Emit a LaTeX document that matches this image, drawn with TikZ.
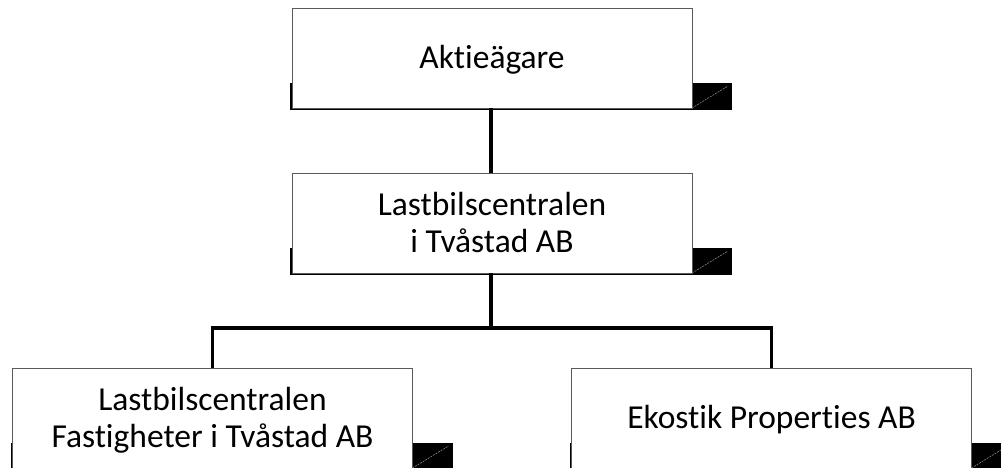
\documentclass[tikz,border=0pt]{standalone}
\usepackage{fontspec}
\setmainfont{Carlito}[Ligatures={NoCommon,NoRare}]
\begin{document}
\begin{tikzpicture}[x=1pt,y=-1pt,
  orgbox/.style={draw=black!65, line width=0.9pt, fill=white, minimum width=400pt,
    minimum height=100pt, inner sep=0pt, outer sep=0pt, align=center,
    font=\fontsize{33.5}{36.7}\selectfont},
  oneline/.style={text height=21.6pt, text depth=0pt},
  twoline/.style={text height=58.3pt, text depth=0pt},
  shadowfill/.style={fill=black},
  shadowdiag/.style={draw=black!40, line width=0.5pt, dash pattern=on 2pt off 1pt},
  conn/.style={draw=black, line width=3.2pt}]
\useasboundingbox (0,0) rectangle (1001,468);
\clip (0,0) rectangle (1001,468);
% positions
\coordinate (pa) at (492,58);
\coordinate (pb) at (492,223);
\coordinate (pc) at (212.5,418);
\coordinate (pd) at (771.5,418);
% shadows
\foreach \p in {pa,pb,pc,pd}{
  \fill[shadowfill] ([xshift=-202pt,yshift=-52pt]\p) rectangle ([xshift=240pt,yshift=-25pt]\p);
  \draw[shadowdiag] ([xshift=200pt,yshift=-50pt]\p) -- ([xshift=236pt,yshift=-28pt]\p);
}
% boxes
\node[orgbox,oneline] (aktie) at (pa) {Aktieägare};
\node[orgbox,twoline] (lbc) at (pb) {Lastbilscentralen\\i Tvåstad AB};
\node[orgbox,twoline] (lbcf) at (pc) {Lastbilscentralen\\Fastigheter i Tvåstad AB};
\node[orgbox,oneline] (eko) at (pd) {Ekostik Properties AB};
% connectors
\coordinate (j) at (491,328);
\draw[conn] (aktie.south -| j) -- (lbc.north -| j);
\draw[conn] (lbc.south -| j) -- (j);
\draw[conn] (lbcf.north) |- (j) -| (eko.north);
\end{tikzpicture}
\end{document}
